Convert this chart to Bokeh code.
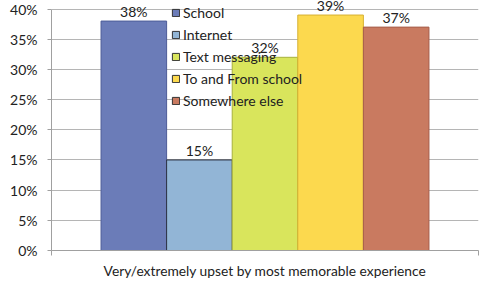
from bokeh.plotting import figure
from bokeh.models import (Range1d, FixedTicker, NumeralTickFormatter, Legend, LegendItem,
                          ColumnDataSource, LabelSet)
from bokeh.core.properties import value
from bokeh.embed import file_html
from bokeh.resources import INLINE

category = "Very/extremely upset by most memorable experience"
series = ["School", "Internet", "Text messaging", "To and From school", "Somewhere else"]
values = [0.38, 0.15, 0.32, 0.39, 0.37]
labels = ["38%", "15%", "32%", "39%", "37%"]
fill_colors = ["#6b7cb8", "#92b5d6", "#d9e55c", "#fcd94e", "#c97a60"]
line_colors = ["#4d5c98", "#2a3040", "#a8b23c", "#d6b132", "#a65d4a"]
y_ticks = [0, 0.05, 0.10, 0.15, 0.20, 0.25, 0.30, 0.35, 0.40]

FONT = "Lato"

# frame spans the full height above the axis so labels near the top are not clipped
p = figure(width=480, height=281, output_backend="svg", toolbar_location=None,
           x_range=Range1d(0, 1), y_range=Range1d(0, 0.4 * 250 / 241.5),
           min_border_left=51, min_border_right=2, min_border_top=0, min_border_bottom=31)
p.outline_line_color = None

n = len(series)
group_w = 0.768
bw = group_w / n
start = 0.5 - group_w / 2
xs = [start + bw * (i + 0.5) for i in range(n)]

src = ColumnDataSource(dict(x=xs, top=values, fill=fill_colors, line=line_colors,
                            name=series, lab=labels))
r = p.vbar(x="x", top="top", width=bw, bottom=0, fill_color="fill", line_color="line",
           line_width=1, source=src)

labs = LabelSet(x="x", y="top", text="lab", source=src, text_align="center",
                text_baseline="bottom", y_offset=1, text_font=value(FONT),
                text_font_size="14px", text_color="#222222")
p.add_layout(labs)

# axes
p.yaxis.ticker = FixedTicker(ticks=y_ticks)
p.yaxis.bounds = (0, 0.4)
p.yaxis.formatter = NumeralTickFormatter(format="0%")
p.yaxis.major_label_text_font = FONT
p.yaxis.major_label_text_font_size = "14px"
p.yaxis.major_label_text_color = "#222222"
p.yaxis.axis_line_color = "#a0a0a0"
p.yaxis.major_tick_line_color = "#a0a0a0"
p.yaxis.major_tick_in = 0
p.yaxis.major_tick_out = 4
p.yaxis.minor_tick_line_color = None
p.yaxis.major_label_standoff = 10

p.xaxis.ticker = FixedTicker(ticks=[0, 1])
p.xaxis.major_label_overrides = {0: "", 1: ""}
p.xaxis.axis_label = category
p.xaxis.axis_label_text_font = FONT
p.xaxis.axis_label_text_font_style = "normal"
p.xaxis.axis_label_text_font_size = "13.8px"
p.xaxis.axis_label_text_color = "#222222"
p.xaxis.axis_label_standoff = 6
p.xaxis.axis_line_color = "#a0a0a0"
p.xaxis.major_tick_line_color = "#a0a0a0"
p.xaxis.major_tick_in = 0
p.xaxis.major_tick_out = 5
p.xaxis.minor_tick_line_color = None
p.xaxis.major_label_text_font_size = "1px"

p.xgrid.grid_line_color = None
p.ygrid.grid_line_color = "#b5b5b5"
p.ygrid.ticker = FixedTicker(ticks=y_ticks)

# legend using proxy quads (drawn outside the visible range)
items = []
for i, s in enumerate(series):
    g = p.quad(left=[xs[i]], right=[xs[i]], bottom=[-2], top=[-1], fill_color=fill_colors[i],
               line_color="#333333")
    items.append(LegendItem(label=s, renderers=[g]))

legend = Legend(items=items, location=(120, 141), orientation="vertical",
                background_fill_alpha=0, border_line_color=None,
                label_text_font=FONT, label_text_font_size="14px", label_text_color="#222222",
                glyph_width=9, glyph_height=9, label_standoff=3, spacing=5,
                padding=0, margin=0, label_height=16)
p.add_layout(legend, "center")

open("out.html", "w").write(file_html(p, INLINE))
